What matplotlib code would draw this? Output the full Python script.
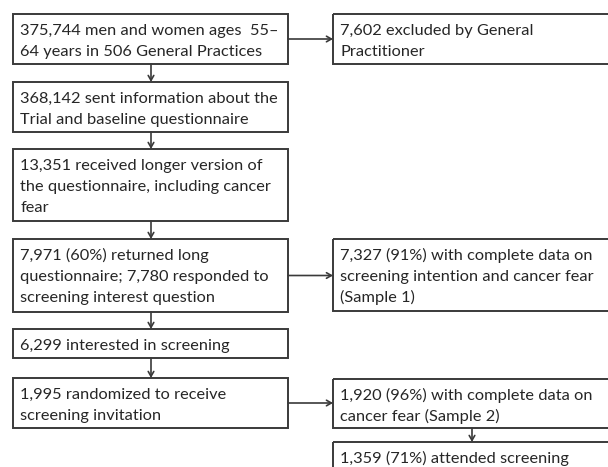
import matplotlib
matplotlib.use("Agg")
import matplotlib.pyplot as plt
from matplotlib.patches import Rectangle

W, H = 608, 467

left_texts = [
    "375,744 men and women ages  55–\n64 years in 506 General Practices",
    "368,142 sent information about the\nTrial and baseline questionnaire",
    "13,351 received longer version of\nthe questionnaire, including cancer\nfear",
    "7,971 (60%) returned long\nquestionnaire; 7,780 responded to\nscreening interest question",
    "6,299 interested in screening",
    "1,995 randomized to receive\nscreening invitation",
]
right_texts = [
    "7,602 excluded by General\nPractitioner",
    "7,327 (91%) with complete data on\nscreening intention and cancer fear\n(Sample 1)",
    "1,920 (96%) with complete data on\ncancer fear (Sample 2)",
    "1,359 (71%) attended screening",
]

# layout (pixels)
left_x0, left_x1 = 13, 288
left_y = [(14, 64), (82, 132), (149, 221), (239, 312), (329, 358), (378, 428)]
right_x0, right_x1 = 333, 612
right_y = [(14, 64), (239, 311), (379, 428), (442, 480)]

EC = "#3a3a3a"
TC = "#262626"
FONT = "Lato"
FS = 11.8
LINE = 20.8
FIRST = 21.0

fig = plt.figure(figsize=(W / 100, H / 100), dpi=100)
ax = fig.add_axes([0, 0, 1, 1])
ax.set_xlim(0, W)
ax.set_ylim(H, 0)
ax.axis("off")

def box(x0, x1, y0, y1, text):
    ax.add_patch(Rectangle((x0, y0), x1 - x0, y1 - y0, fill=False,
                           edgecolor=EC, linewidth=1.4, clip_on=True))
    for k, line in enumerate(text.split("\n")):
        ax.text(x0 + 7.5, y0 + FIRST + LINE * k, line, ha="left",
                va="baseline", fontsize=FS, family=FONT, color=TC)

for (y0, y1), t in zip(left_y, left_texts):
    box(left_x0, left_x1, y0, y1, t)
for (y0, y1), t in zip(right_y, right_texts):
    box(right_x0, right_x1, y0, y1, t)

arrow = dict(arrowstyle="->,head_length=0.35,head_width=0.2", color=EC,
             lw=1.2, shrinkA=0, shrinkB=0)
cx = 151
for i in range(len(left_y) - 1):
    ax.annotate("", xy=(cx, left_y[i + 1][0]), xytext=(cx, left_y[i][1]),
                arrowprops=arrow)
for li, ri in [(0, 0), (3, 1), (5, 2)]:
    y = (left_y[li][0] + left_y[li][1]) / 2
    ax.annotate("", xy=(right_x0, y), xytext=(left_x1, y), arrowprops=arrow)
ax.annotate("", xy=(472, right_y[3][0]), xytext=(472, right_y[2][1]),
            arrowprops=arrow)

fig.savefig("out.png", dpi=100, facecolor="white")
